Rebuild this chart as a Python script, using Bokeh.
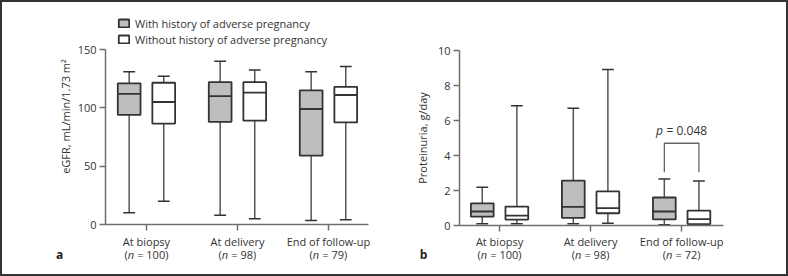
from bokeh.plotting import figure
from bokeh.layouts import row, column
from bokeh.models import Range1d, FixedTicker, Legend, LegendItem, CustomLabelingPolicy
from bokeh.core.properties import value
from bokeh.embed import file_html
from bokeh.resources import INLINE

categories = ["At biopsy", "At delivery", "End of follow-up"]
egfr_n = [100, 98, 79]
prot_n = [100, 98, 72]
series_names = ["With history of adverse pregnancy", "Without history of adverse pregnancy"]
panel_letters = ["a", "b"]

# eGFR, mL/min/1.73 m2 : whisker low, Q1, median, Q3, whisker high
egfr_ticks = [0, 50, 100, 150]
egfr_with_lo = [10, 8, 3.5]
egfr_with_q1 = [94, 88, 59]
egfr_with_med = [112, 110, 99]
egfr_with_q3 = [121, 122, 115]
egfr_with_hi = [131, 140, 131]
egfr_without_lo = [20, 5, 4]
egfr_without_q1 = [86.5, 89, 87.5]
egfr_without_med = [105, 113, 111]
egfr_without_q3 = [121.5, 122, 118]
egfr_without_hi = [127, 132.5, 135.5]

# Proteinuria, g/day
prot_ticks = [0, 2, 4, 6, 8, 10]
prot_with_lo = [0.1, 0.1, 0.05]
prot_with_q1 = [0.51, 0.44, 0.35]
prot_with_med = [0.8, 1.07, 0.8]
prot_with_q3 = [1.27, 2.57, 1.6]
prot_with_hi = [2.18, 6.7, 2.66]
prot_without_lo = [0.1, 0.13, 0.0]
prot_without_q1 = [0.34, 0.7, 0.08]
prot_without_med = [0.56, 0.99, 0.36]
prot_without_q3 = [1.08, 1.95, 0.85]
prot_without_hi = [6.84, 8.92, 2.54]

p_text = "0.048"
p_group = 2
p_bracket_top = 4.7
p_bracket_leg = 3.05
p_label_y = 5.45

FONT = "Open Sans"
GRAY = "#bebebe"
DARK = "#333333"
WHISK = "#555555"
AXIS = "#6f6f6f"
TXT = "#333333"
NB = "\u00a0"

OFF = 0.19
BW = 0.25
CAP = 0.065
W = 392
H_MAIN = 230
H_STRIP = 42
AXIS_PX = 175  # pixel length of the value axis


def make_fig(xr, yr, ticks, mb):
    frame_h = H_MAIN - mb[2] - mb[3]
    # value axis spans AXIS_PX pixels; any extra frame height above it holds the legend
    y_end = yr[0] + (yr[1] - yr[0]) * frame_h / AXIS_PX
    p = figure(width=W, height=H_MAIN, x_range=Range1d(*xr), y_range=Range1d(yr[0], y_end),
               output_backend="svg", toolbar_location=None,
               min_border_left=mb[0], min_border_right=mb[1],
               min_border_top=mb[2], min_border_bottom=mb[3])
    p.frame_align = False
    p.outline_line_color = None
    p.xgrid.visible = False
    p.ygrid.visible = False
    p.background_fill_color = "white"
    p.border_fill_color = "white"
    for ax in (p.xaxis[0], p.yaxis[0]):
        ax.axis_line_color = AXIS
        ax.axis_line_width = 1.5
        ax.major_tick_line_color = AXIS
        ax.major_tick_line_width = 1.5
        ax.major_tick_out = 6
        ax.major_tick_in = 0
        ax.minor_tick_line_color = None
        ax.major_label_text_font = FONT
        ax.major_label_text_font_size = "11px"
        ax.major_label_text_color = TXT
        ax.axis_label_text_font = FONT
        ax.axis_label_text_font_size = "11px"
        ax.axis_label_text_font_style = "normal"
        ax.axis_label_text_color = TXT
    # x tick marks only; the two-line category labels are set in the strip below
    p.xaxis[0].ticker = FixedTicker(ticks=list(range(len(categories))))
    p.xaxis[0].major_label_policy = CustomLabelingPolicy(
        code="for (const i of Array.from(indices)) { indices.unset(i) }")
    p.xaxis[0].major_label_text_font_size = "0px"
    p.xaxis[0].major_label_standoff = 0
    p.yaxis[0].ticker = FixedTicker(ticks=ticks)
    p.yaxis[0].bounds = yr
    p.yaxis[0].major_label_standoff = 3
    return p


def draw_boxes(p, lo, q1, med, q3, hi, offset, fill):
    xs = [i + offset for i in range(len(lo))]
    p.segment(x0=xs, y0=q3, x1=xs, y1=hi, line_color=WHISK, line_width=1.5)
    p.segment(x0=xs, y0=lo, x1=xs, y1=q1, line_color=WHISK, line_width=1.5)
    p.segment(x0=[x - CAP for x in xs], y0=hi, x1=[x + CAP for x in xs], y1=hi,
              line_color=DARK, line_width=1.5)
    p.segment(x0=[x - CAP for x in xs], y0=lo, x1=[x + CAP for x in xs], y1=lo,
              line_color=DARK, line_width=1.5)
    r = p.vbar(x=xs, width=BW, bottom=q1, top=q3, fill_color=fill, line_color=DARK,
               line_width=1.8)
    p.segment(x0=[x - BW / 2 for x in xs], y0=med, x1=[x + BW / 2 for x in xs], y1=med,
              line_color=DARK, line_width=1.8)
    return r


def make_strip(main, mb, ns, letter, letter_px):
    # strip under a panel carrying the two-line category labels and the panel letter
    xr = main.x_range
    frame_w = W - mb[0] - mb[1]
    upp = (xr.end - xr.start) / frame_w
    s = figure(width=W, height=H_STRIP,
               x_range=Range1d(xr.start - mb[0] * upp, xr.end + mb[1] * upp),
               y_range=Range1d(H_STRIP, 0), output_backend="svg", toolbar_location=None,
               x_axis_location=None, y_axis_location=None,
               min_border_left=0, min_border_right=0, min_border_top=0, min_border_bottom=0)
    s.frame_align = False
    s.outline_line_color = None
    s.xgrid.visible = False
    s.ygrid.visible = False
    s.background_fill_color = "white"
    s.border_fill_color = "white"
    idx = list(range(len(categories)))
    s.text(x=idx, y=[8.5] * len(idx), text=categories, text_font=value(FONT),
           text_font_size="11px", text_color=TXT, text_align="center", text_baseline="middle")
    fs = 11
    for i, n in enumerate(ns):
        rest = NB + "=" + NB + "%d)" % n
        w_open = fs * 0.30
        w_n = fs * 0.60
        w_rest = fs * (0.26 * 2 + 0.572 + 0.30) + fs * 0.572 * len(str(n))
        start = -(w_open + w_n + w_rest) / 2
        common = dict(text_font=value(FONT), text_font_size="11px", text_color=TXT,
                      text_baseline="middle", text_align="left")
        s.text(x=[i], y=[22], text=["("], x_offset=start, **common)
        s.text(x=[i], y=[22], text=["n"], x_offset=start + w_open,
               text_font_style="italic", **common)
        s.text(x=[i], y=[22], text=[rest], x_offset=start + w_open + w_n, **common)
    s.text(x=[s.x_range.start], y=[22], text=[letter], x_offset=letter_px,
           text_font=value(FONT), text_font_size="12px", text_font_style="bold",
           text_color="#222222", text_align="center", text_baseline="middle")
    return s


# ---------- panel a ----------
MB_A = (103, 26, 6, 8)
pa = make_fig((-0.45, 2.44), (0, 150), egfr_ticks, MB_A)
pa.yaxis[0].axis_label = "eGFR, mL/min/1.73 m²"
pa.yaxis[0].axis_label_standoff = 2
ra1 = draw_boxes(pa, egfr_with_lo, egfr_with_q1, egfr_with_med, egfr_with_q3, egfr_with_hi, -OFF, GRAY)
ra2 = draw_boxes(pa, egfr_without_lo, egfr_without_q1, egfr_without_med, egfr_without_q3, egfr_without_hi, OFF, "white")
legend = Legend(items=[LegendItem(label=series_names[0], renderers=[ra1]),
                       LegendItem(label=series_names[1], renderers=[ra2])],
                location=(12, AXIS_PX + 2), orientation="vertical",
                label_text_font=FONT, label_text_font_size="11px", label_text_color=TXT,
                glyph_width=13, glyph_height=10, label_height=16,
                label_standoff=5, spacing=0, padding=0, margin=0,
                background_fill_alpha=0, border_line_alpha=0)
pa.add_layout(legend, "center")
sa = make_strip(pa, MB_A, egfr_n, panel_letters[0], 57)

# ---------- panel b ----------
MB_B = (65, 63, 48, 7)
pb = make_fig((-0.44, 2.46), (0, 10), prot_ticks, MB_B)
pb.yaxis[0].axis_label = "Proteinuria, g/day"
pb.yaxis[0].axis_label_standoff = 5
draw_boxes(pb, prot_with_lo, prot_with_q1, prot_with_med, prot_with_q3, prot_with_hi, -OFF, GRAY)
draw_boxes(pb, prot_without_lo, prot_without_q1, prot_without_med, prot_without_q3, prot_without_hi, OFF, "white")
bx0 = p_group - OFF
bx1 = p_group + OFF
pb.line(x=[bx0, bx0, bx1, bx1], y=[p_bracket_leg, p_bracket_top, p_bracket_top, p_bracket_leg],
        line_color="#666666", line_width=1.3)
pw = 12 * 0.61
rest_txt = NB + "=" + NB + p_text
rw = 12 * (0.26 * 2 + 0.572 + 0.572 * 4 + 0.266)
st = -(pw + rw) / 2
pb.text(x=[p_group], y=[p_label_y], text=["p"], text_font=value(FONT), text_font_size="12px",
        text_font_style="italic", text_color=TXT, text_baseline="middle", text_align="left",
        x_offset=st)
pb.text(x=[p_group], y=[p_label_y], text=[rest_txt], text_font=value(FONT), text_font_size="12px",
        text_color=TXT, text_baseline="middle", text_align="left", x_offset=st + pw)
sb = make_strip(pb, MB_B, prot_n, panel_letters[1], 29)

layout = row(column(pa, sa), column(pb, sb), styles={"border": "2px solid #333333"})
open("out.html", "w").write(file_html(layout, INLINE))
